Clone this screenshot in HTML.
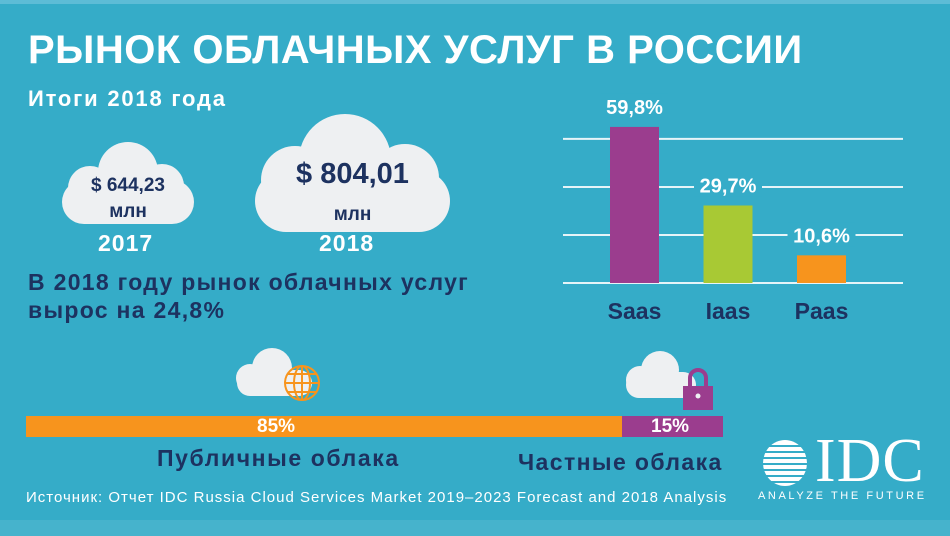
<!DOCTYPE html>
<html><head><meta charset="utf-8"><style>
body{margin:0;width:950px;height:536px;overflow:hidden;background:#35acc8;font-family:"Liberation Sans","DejaVu Sans",sans-serif;position:relative}
.a{position:absolute;white-space:nowrap}
.w{color:#fff;font-weight:bold}
.n{color:#1d3260;font-weight:bold}
</style></head><body>
<div class="a" style="left:0;top:0;width:950px;height:4px;background:#5dbcd6"></div>
<div class="a w" style="left:28px;top:28px;font-size:40px;letter-spacing:0.5px">РЫНОК ОБЛАЧНЫХ УСЛУГ В РОССИИ</div>
<div class="a w" style="left:28px;top:86px;font-size:22px;letter-spacing:1.8px">Итоги 2018 года</div>
<svg class="a" style="left:0;top:0" width="950" height="536">
<g fill="#eef0f2">
<rect x="62" y="180" width="132" height="44" rx="22"/><circle cx="128" cy="172" r="30"/><circle cx="90" cy="188" r="22"/><circle cx="162" cy="186" r="22"/></g>
<g fill="#eef0f2">
<rect x="255" y="170" width="195" height="62" rx="31"/><circle cx="345" cy="160" r="46"/><circle cx="295" cy="180" r="34"/><circle cx="405" cy="178" r="34"/></g>
<g fill="#eef0f2">
<rect x="237" y="370" width="75" height="26" rx="13"/><circle cx="272" cy="368" r="20"/><circle cx="250" cy="378" r="14"/></g>
<g stroke="#f7941d" stroke-width="2" fill="none"><circle cx="302" cy="383" r="17"/><ellipse cx="302" cy="383" rx="8" ry="17"/><line x1="285" y1="383" x2="319" y2="383"/><line x1="288" y1="374" x2="316" y2="374"/><line x1="288" y1="392" x2="316" y2="392"/><line x1="302" y1="366" x2="302" y2="400"/></g>
<g fill="#eef0f2">
<rect x="626" y="372" width="70" height="26" rx="13"/><circle cx="660" cy="370" r="19"/><circle cx="640" cy="380" r="14"/></g>
<g><path d="M690 388 v-10 a8 8 0 0 1 16 0 v10" stroke="#9b3d8e" stroke-width="4" fill="none"/><rect x="683" y="386" width="30" height="24" fill="#9b3d8e"/><circle cx="698" cy="396" r="2.5" fill="#eef0f2"/></g>
</svg>
<div class="a n" style="left:62px;top:173px;width:132px;text-align:center;font-size:19px;line-height:26px">$ 644,23<br>млн</div>
<div class="a n" style="left:255px;top:156px;width:195px;text-align:center;line-height:36px"><span style="font-size:29px">$ 804,01</span><br><span style="font-size:19px">млн</span></div>
<div class="a w" style="left:98px;top:230px;font-size:23px;letter-spacing:1px">2017</div>
<div class="a w" style="left:319px;top:230px;font-size:23px;letter-spacing:1px">2018</div>
<div class="a n" style="left:28px;top:268px;font-size:23px;line-height:28px;letter-spacing:1.3px">В 2018 году рынок облачных услуг<br>вырос на 24,8%</div>
<svg id="ch" class="a" style="left:0;top:0" width="950" height="536"></svg>
<div class="a" style="left:26px;top:416px;width:596px;height:21px;background:#f7941d"></div>
<div class="a" style="left:622px;top:416px;width:101px;height:21px;background:#9b3d8e"></div>
<div class="a w" style="left:257px;top:416px;font-size:19px">85%</div>
<div class="a w" style="left:651px;top:416px;font-size:19px">15%</div>
<div class="a n" style="left:157px;top:445px;font-size:23px;letter-spacing:1.6px">Публичные облака</div>
<div class="a n" style="left:518px;top:449px;font-size:23px;letter-spacing:1.4px">Частные облака</div>
<div class="a" style="left:26px;top:489px;font-size:15px;color:#fff;letter-spacing:1px">Источник: Отчет IDC Russia Cloud Services Market 2019–2023 Forecast and 2018 Analysis</div>
<svg class="a" style="left:755px;top:438px" width="60" height="50"><ellipse cx="30" cy="25" rx="22" ry="23" fill="#fff"/><g stroke="#35acc8" stroke-width="2"><line x1="0" y1="8" x2="60" y2="8"/><line x1="0" y1="14" x2="60" y2="14"/><line x1="0" y1="20" x2="60" y2="20"/><line x1="0" y1="26" x2="60" y2="26"/><line x1="0" y1="32" x2="60" y2="32"/><line x1="0" y1="38" x2="60" y2="38"/><line x1="0" y1="44" x2="60" y2="44"/></g></svg>
<div class="a" style="left:815px;top:430px;font-family:'Liberation Serif',serif;font-size:62px;color:#fff;letter-spacing:1px;line-height:62px">IDC</div>
<div class="a" style="left:758px;top:490px;font-size:11px;color:#fff;letter-spacing:2.6px">ANALYZE THE FUTURE</div>
<div class="a" style="left:0;top:520px;width:950px;height:16px;background:#46b3cc"></div>
<script>
const categories=["Saas","Iaas","Paas"];
const values=[59.8,29.7,10.6];
const labels=["59,8%","29,7%","10,6%"];
const colors=["#9b3d8e","#a8c934","#f7941d"];
const svg=document.getElementById('ch');const NS='http://www.w3.org/2000/svg';
const base=283,scale=2.61;
const y=v=>base-v*scale;const x=i=>610+i*93.5;
function mk(t,a){const e=document.createElementNS(NS,t);for(const k in a)e.setAttribute(k,a[k]);svg.appendChild(e);return e;}
[0,18.4,36.8,55.2].forEach(g=>{const l=mk('line',{x1:563,x2:903,y1:y(g),y2:y(g),stroke:'#e6f4f8','stroke-width':2});

});
values.forEach((v,i)=>{
const cx=x(i)+24.5;
const r=mk('rect',{x:x(i),y:y(v),width:49,height:v*scale,fill:colors[i]});


const bw=62;const bg=mk('rect',{x:cx-bw/2-3,y:y(v)-33,width:bw+6,height:24,fill:'#35acc8'});


const t=mk('text',{x:cx,y:y(v)-13,'text-anchor':'middle',fill:'#fff','font-size':20,'font-weight':'bold'});t.textContent=labels[i];


const c=mk('text',{x:cx,y:319,'text-anchor':'middle',fill:'#1d3260','font-size':23,'font-weight':'bold'});c.textContent=categories[i];


});
</script>
</body></html>
